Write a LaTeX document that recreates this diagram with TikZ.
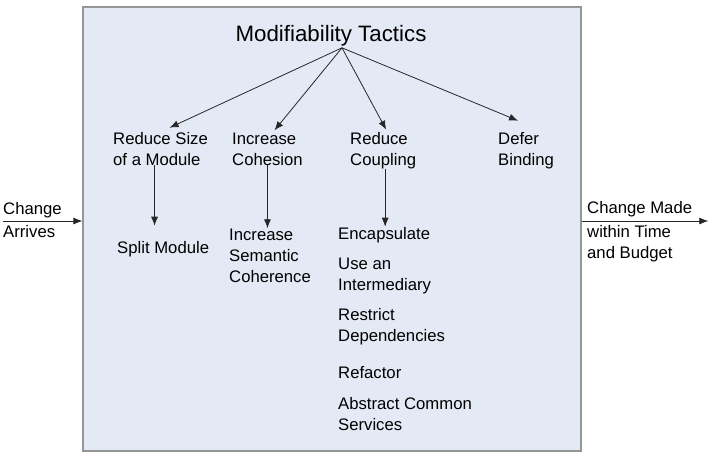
\documentclass[tikz,border=0pt]{standalone}
\usepackage{fontspec}
\setmainfont{Liberation Sans}
\usepackage{tikz}
\usetikzlibrary{arrows.meta,positioning,calc}
\definecolor{boxfill}{RGB}{228,234,245}
\definecolor{boxline}{RGB}{150,150,150}

\begin{document}
\begin{tikzpicture}[x=1pt, y=-1pt,
    txt/.style={anchor=base west, align=left, inner sep=0pt, font=\fontsize{16.7}{21}\selectfont},
    arr/.style={-{Latex[length=9pt,width=7pt]}, line width=0.8pt, draw=black!85}]
    \useasboundingbox (0,0) rectangle (712,472);
    \node[draw=boxline, line width=1.3pt, fill=boxfill, minimum width=498pt, minimum height=444pt, inner sep=0pt] (box) at (332,229) {};
    \node[anchor=base, inner sep=0pt, font=\fontsize{22.3}{26}\selectfont] (title) at (331,41) {Modifiability Tactics};
    \coordinate (apex) at ([xshift=11pt,yshift=-2pt]title.south);
    % tactic groups (placed by the baseline of their last line)
    \node[txt] (rs) at (113,165) {Reduce Size\\of a Module};
    \node[txt] (ic) at (232,165) {Increase\\Cohesion};
    \node[txt] (rc) at (350,165) {Reduce\\Coupling};
    \node[txt] (db) at (498,165) {Defer\\Binding};
    \draw[arr] (apex) -- ([xshift=9pt,yshift=4pt]rs.north);
    \draw[arr] (apex) -- ([xshift=7pt,yshift=2pt]ic.north);
    \draw[arr] (apex) -- ([xshift=3pt,yshift=2pt]rc.north);
    \draw[arr] (apex) -- ([xshift=-8pt,yshift=11pt]db.north);
    % tactics
    \node[txt] (sm) at (117,253) {Split Module};
    \node[txt] (isc) at (229,282) {Increase\\Semantic\\Coherence};
    \node[txt] (enc) at (338,239) {Encapsulate};
    \node[txt] (uai) at (338,290) {Use an\\Intermediary};
    \node[txt] (rd) at (338,341) {Restrict\\Dependencies};
    \node[txt] (ref) at (338,378) {Refactor};
    \node[txt] (acs) at (338,430) {Abstract Common\\Services};
    \draw[arr, shorten >=15pt] ([xshift=-6pt]rs.south) -- ([xshift=-6pt]rs.south |- sm.north);
    \draw[arr] (ic.south) -- (ic.south |- isc.north);
    \draw[arr] ([xshift=2pt]rc.south) -- ([xshift=2pt]rc.south |- enc.north);
    % stimulus and response
    \node[txt] (ca) at (3,237) {Change\\[2pt]Arrives};
    \node[txt] (cm) at (587,258) {Change Made\\[3pt]within Time\\and Budget};
    \coordinate (inpt) at ([yshift=8pt]box.west);
    \coordinate (outpt) at ([yshift=8pt]box.east);
    \draw[arr] (ca.west |- inpt) -- (inpt);
    \draw[arr] (outpt) -- ([xshift=16pt]cm.east |- outpt);
\end{tikzpicture}
\end{document}
